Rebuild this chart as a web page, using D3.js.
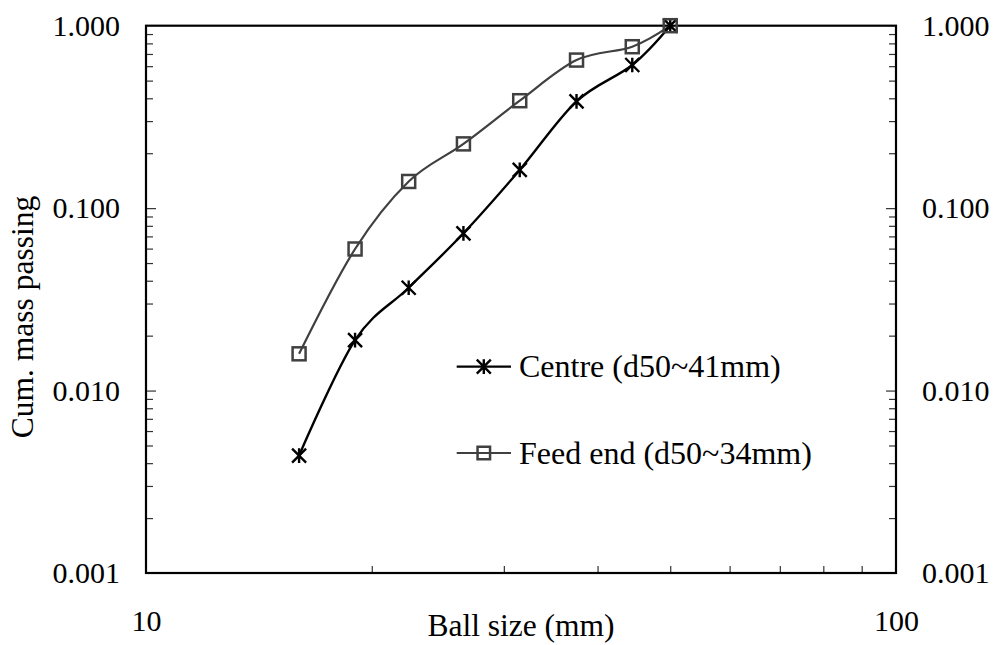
<!DOCTYPE html>
<html>
<head>
<meta charset="utf-8">
<script src="https://cdn.jsdelivr.net/npm/d3@7"></script>
<style>
  html, body { margin: 0; padding: 0; background: #fff; }
  svg { display: block; }
  text { font-family: "Liberation Serif", "Times New Roman", serif; fill: #000; }
</style>
</head>
<body>
<svg id="chart" width="998" height="645"></svg>
<script>
// Ball size distribution (cumulative mass passing)
const ballSize = [16, 19, 22.4, 26.5, 31.5, 37.5, 44.5, 50];
const centrePassing = [0.0044, 0.0189, 0.0366, 0.0728, 0.162, 0.385, 0.609, 1.0];
const feedEndPassing = [0.0159, 0.0597, 0.140, 0.225, 0.388, 0.648, 0.767, 1.0];
const seriesNames = ["Centre (d50~41mm)", "Feed end (d50~34mm)"];

const yMajorTicks = [0.001, 0.01, 0.1, 1];
const yMinorTicks = [2,3,4,5,6,7,8,9].flatMap(m => [0.001, 0.01, 0.1].map(d => +(m * d).toPrecision(3)));
const xMajorTicks = [10, 100];
const xMinorTicks = [20, 30, 40, 50, 60, 70, 80, 90];

const W = 998, H = 645;
const margin = { left: 146, top: 25.7, right: 102, bottom: 72 };
const x0 = margin.left, x1 = W - margin.right;
const y0 = H - margin.bottom, y1 = margin.top;

const svg = d3.select("#chart");

const x = d3.scaleLog().domain([10, 100]).range([x0, x1]);
const y = d3.scaleLog().domain([0.001, 1]).range([y0, y1]);

const TICK_FONT = 30;
const TITLE_FONT = 31.5;
const LEGEND_FONT = 32;

// Minor / major inward ticks
function tickGroup(axis, tx, ty) {
  const g = svg.append("g").attr("transform", `translate(${tx},${ty})`).call(axis);
  g.select(".domain").remove();
  g.selectAll("line").attr("stroke", "#333").attr("stroke-width", 1.2);
  g.selectAll("text").remove();
  return g;
}
tickGroup(d3.axisRight(y).tickValues(yMinorTicks).tickSize(7), x0, 0);
tickGroup(d3.axisRight(y).tickValues([0.01, 0.1]).tickSize(10), x0, 0);
tickGroup(d3.axisLeft(y).tickValues(yMinorTicks).tickSize(7), x1, 0);
tickGroup(d3.axisLeft(y).tickValues([0.01, 0.1]).tickSize(10), x1, 0);
tickGroup(d3.axisTop(x).tickValues(xMinorTicks).tickSize(7), 0, y0);

// Tick labels
function labelGroup(axis, tx, ty) {
  const g = svg.append("g").attr("transform", `translate(${tx},${ty})`).call(axis);
  g.select(".domain").remove();
  g.selectAll("line").remove();
  g.selectAll("text")
    .attr("font-family", '"Liberation Serif", "Times New Roman", serif')
    .attr("font-size", TICK_FONT)
    .attr("fill", "#000");
  return g;
}
labelGroup(d3.axisLeft(y).tickValues(yMajorTicks).tickSize(0).tickPadding(26).tickFormat(d3.format(".3f")), x0, 0);
labelGroup(d3.axisRight(y).tickValues(yMajorTicks).tickSize(0).tickPadding(26).tickFormat(d3.format(".3f")), x1, 0);
labelGroup(d3.axisBottom(x).tickValues(xMajorTicks).tickSize(0).tickPadding(37).tickFormat(d3.format("d")), 0, y0);

// Plot frame
svg.append("rect")
  .attr("x", x0).attr("y", y1)
  .attr("width", x1 - x0).attr("height", y0 - y1)
  .attr("fill", "none").attr("stroke", "#000").attr("stroke-width", 2.2);

// Axis titles
svg.append("text")
  .attr("x", (x0 + x1) / 2).attr("y", 636)
  .attr("text-anchor", "middle").attr("font-size", TITLE_FONT)
  .text("Ball size (mm)");
svg.append("text")
  .attr("transform", "translate(33,317) rotate(-90)")
  .attr("text-anchor", "middle").attr("font-size", TITLE_FONT)
  .text("Cum. mass passing");

// Series
const line = d3.line().x(d => x(d[0])).y(d => y(d[1])).curve(d3.curveCatmullRom.alpha(0));
const centreData = ballSize.map((s, i) => [s, centrePassing[i]]);
const feedData = ballSize.map((s, i) => [s, feedEndPassing[i]]);

const CENTRE_COLOR = "#000";
const FEED_COLOR = "#404040";

function star(g, cx, cy, r) {
  const p = `M${cx - r},${cy - r}L${cx + r},${cy + r}M${cx - r},${cy + r}L${cx + r},${cy - r}M${cx},${cy - r * 1.05}L${cx},${cy + r * 1.05}`;
  g.append("path").attr("d", p).attr("stroke", CENTRE_COLOR).attr("stroke-width", 2.4).attr("fill", "none");
}
function square(g, cx, cy, s) {
  g.append("rect").attr("x", cx - s / 2).attr("y", cy - s / 2)
    .attr("width", s).attr("height", s)
    .attr("fill", "none").attr("stroke", FEED_COLOR).attr("stroke-width", 2.5);
}

svg.append("path").datum(feedData).attr("d", line)
  .attr("fill", "none").attr("stroke", FEED_COLOR).attr("stroke-width", 2.2);
svg.append("path").datum(centreData).attr("d", line)
  .attr("fill", "none").attr("stroke", CENTRE_COLOR).attr("stroke-width", 2.4);

const centreMarks = svg.append("g");
centreData.forEach(d => star(centreMarks, x(d[0]), y(d[1]), 7));
const feedMarks = svg.append("g");
feedData.forEach(d => square(feedMarks, x(d[0]), y(d[1]), 13));

// Legend
const legend = svg.append("g");
const legendItems = [
  { name: seriesNames[0], color: CENTRE_COLOR, y: 366.7, marker: "star" },
  { name: seriesNames[1], color: FEED_COLOR, y: 453, marker: "square" }
];
legendItems.forEach(it => {
  legend.append("line")
    .attr("x1", 456.7).attr("x2", 511).attr("y1", it.y).attr("y2", it.y)
    .attr("stroke", it.color).attr("stroke-width", 2.2);
  if (it.marker === "star") star(legend, 483.8, it.y, 7);
  else square(legend, 483.8, it.y, 12.5);
  legend.append("text")
    .attr("x", 519).attr("y", it.y).attr("dy", "0.33em")
    .attr("font-size", LEGEND_FONT)
    .text(it.name);
});
</script>
</body>
</html>
